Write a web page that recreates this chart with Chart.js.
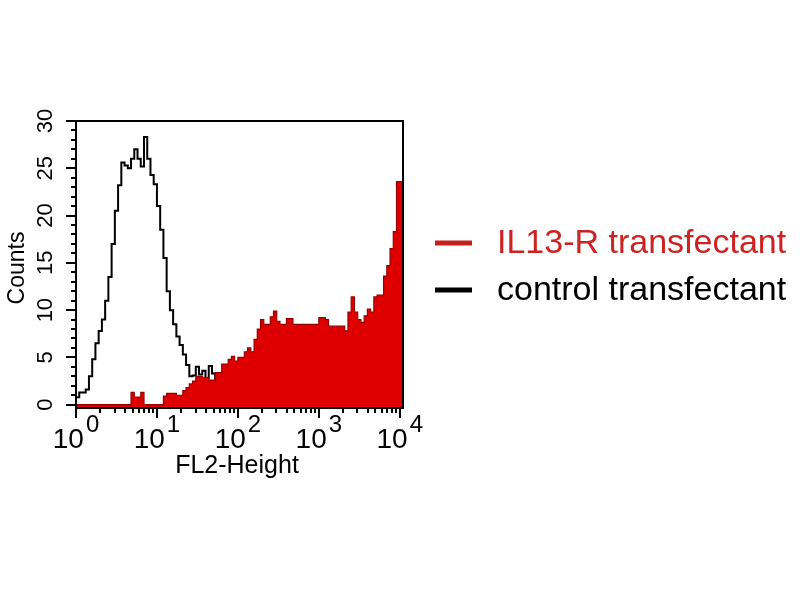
<!DOCTYPE html>
<html>
<head>
<meta charset="utf-8">
<script src="https://cdn.jsdelivr.net/npm/chart.js@4.4.1/dist/chart.umd.min.js"></script>
<style>
  html, body { margin: 0; padding: 0; background: #ffffff; }
  #wrap { width: 800px; height: 600px; }
</style>
</head>
<body>
<div id="wrap"><canvas id="c" width="800" height="600"></canvas></div>
<script>
// ---- data (channel histogram, 4 log decades over channels 0..100) ----
const channels = Array.from({length: 101}, (_, i) => i);

const seriesNames = ['IL13-R transfectant', 'control transfectant'];

const il13r = [
  0, 0, 0, 0, 0, 0, 0, 0, 0, 0,
  0, 0, 0, 0, 0, 0, 0, 0, 1.3, 0.8,
  0.8, 1.3, 0, 0, 0, 0, 0, 0, 0.9, 1.2,
  1.2, 1.2, 1.0, 1.0, 1.5, 1.8, 2.2, 2.5, 3.0, 3.0,
  2.9, 2.9, 2.6, 2.6, 3.4, 3.4, 4.3, 4.3, 4.8, 5.1,
  4.6, 5.0, 5.0, 5.6, 6.0, 5.6, 6.9, 8.0, 9.0, 8.5,
  8.5, 9.3, 9.9, 8.8, 8.5, 8.5, 9.1, 9.1, 8.5, 8.5,
  8.5, 8.5, 8.5, 8.5, 8.5, 8.5, 9.2, 9.2, 9.0, 8.3,
  8.3, 8.3, 8.3, 8.3, 7.8, 9.8, 11.4, 9.8, 9.0, 8.7,
  9.4, 10.1, 9.8, 11.4, 11.6, 11.6, 13.6, 14.7, 16.5, 18.3,
  23.6
];

const control = [
  2.2, 0.8, 1.3, 1.3, 1.6, 3.0, 4.8, 6.5, 7.8, 9.0,
  11.0, 13.5, 17.0, 20.5, 23.2, 25.6, 25.3, 25.0, 26.0, 27.0,
  26.0, 25.2, 28.3, 26.0, 24.3, 23.3, 21.0, 18.5, 15.5, 12.0,
  10.0, 8.5, 7.2, 6.3, 5.3, 4.2, 3.0, 3.1, 4.0, 3.2,
  3.6, 2.8, 4.1, 3.3, 2.5, 2.0, 1.5, 1.2, 0.8, 0.5,
  0.3, 0, 0, 0, 0, 0, 0, 0, 0, 0,
  0, 0, 0, 0, 0, 0, 0, 0, 0, 0,
  0, 0, 0, 0, 0, 0, 0, 0, 0, 0,
  0, 0, 0, 0, 0, 0, 0, 0, 0, 0,
  0, 0, 0, 0, 0, 0, 0, 0, 0, 0,
  0
];

// decade positions (channel) and their exponents
const decadeChannels = [0, 25, 50, 75, 100];
const decadeExponents = ['0', '1', '2', '3', '4'];
const yMajorTicks = [0, 5, 10, 15, 20, 25, 30];
const xTitle = 'FL2-Height';
const yTitle = 'Counts';

function toPoints(vals) {
  const pts = channels.map((c, i) => ({x: c, y: vals[i]}));
  pts.push({x: channels[channels.length - 1] + 1, y: vals[vals.length - 1]});
  return pts;
}

const FONT = '"Liberation Sans", Arial, sans-serif';

const axesPlugin = {
  id: 'facsAxes',
  afterDraw(chart) {
    const ctx = chart.ctx;
    const xs = chart.scales.x, ys = chart.scales.y;
    const a = chart.chartArea;
    ctx.save();
    ctx.strokeStyle = '#000';
    ctx.fillStyle = '#000';
    // frame
    ctx.lineWidth = 2;
    ctx.strokeRect(a.left, a.top, a.right - a.left, a.bottom - a.top);

    // y ticks
    ctx.lineWidth = 2;
    for (let v = 0; v <= 30; v++) {
      const y = Math.round(ys.getPixelForValue(v));
      const len = (v % 5 === 0) ? 10 : 5;
      ctx.beginPath();
      ctx.moveTo(a.left, y);
      ctx.lineTo(a.left - len, y);
      ctx.stroke();
    }
    // y labels (rotated)
    ctx.font = '22px ' + FONT;
    ctx.textAlign = 'center';
    ctx.textBaseline = 'middle';
    yMajorTicks.forEach(v => {
      const y = ys.getPixelForValue(v);
      ctx.save();
      ctx.translate(46, y);
      ctx.rotate(-Math.PI / 2);
      ctx.fillText(String(v), 0, 0);
      ctx.restore();
    });

    // x ticks (log decades with minor ticks)
    for (let d = 0; d < decadeChannels.length; d++) {
      const base = decadeChannels[d];
      const px = Math.round(xs.getPixelForValue(base));
      ctx.beginPath();
      ctx.moveTo(px, a.bottom);
      ctx.lineTo(px, a.bottom + 10);
      ctx.stroke();
      if (d < decadeChannels.length - 1) {
        const span = decadeChannels[d + 1] - base;
        for (let k = 2; k <= 9; k++) {
          const mx = Math.round(xs.getPixelForValue(base + span * Math.log10(k)));
          ctx.beginPath();
          ctx.moveTo(mx, a.bottom);
          ctx.lineTo(mx, a.bottom + 5);
          ctx.stroke();
        }
      }
    }
    // x labels 10^n
    ctx.textBaseline = 'alphabetic';
    ctx.textAlign = 'left';
    decadeChannels.forEach((c, i) => {
      const px = xs.getPixelForValue(c);
      ctx.font = '28px ' + FONT;
      const wb = ctx.measureText('10').width;
      ctx.font = '24px ' + FONT;
      const we = ctx.measureText(decadeExponents[i]).width;
      const start = px - (wb + 2 + we) / 2;
      ctx.font = '28px ' + FONT;
      ctx.fillText('10', start, 448);
      ctx.font = '24px ' + FONT;
      ctx.fillText(decadeExponents[i], start + wb + 2, 432);
    });

    // axis titles
    ctx.font = '25px ' + FONT;
    ctx.textAlign = 'center';
    ctx.textBaseline = 'alphabetic';
    ctx.fillText(xTitle, 237, 473);
    ctx.save();
    ctx.translate(24, 268);
    ctx.rotate(-Math.PI / 2);
    ctx.font = '23px ' + FONT;
    ctx.fillText(yTitle, 0, 0);
    ctx.restore();

    // legend
    const rows = [
      {label: chart.data.datasets[0].label, color: '#c81e1e', text: '#cc2222', y: 243},
      {label: chart.data.datasets[1].label, color: '#000000', text: '#000000', y: 290}
    ];
    ctx.font = '34px ' + FONT;
    ctx.textAlign = 'left';
    ctx.textBaseline = 'middle';
    rows.forEach(r => {
      ctx.strokeStyle = r.color;
      ctx.lineWidth = 5;
      ctx.beginPath();
      ctx.moveTo(435, r.y);
      ctx.lineTo(472, r.y);
      ctx.stroke();
      ctx.fillStyle = r.text;
      ctx.fillText(r.label, 497, r.y + 1);
    });
    ctx.restore();
  }
};

new Chart(document.getElementById('c'), {
  type: 'line',
  data: {
    datasets: [
      {
        label: seriesNames[0],
        data: toPoints(il13r),
        stepped: 'after',
        borderColor: 'rgb(150,0,0)',
        borderWidth: 1.2,
        backgroundColor: 'rgb(222,0,0)',
        fill: 'start',
        pointRadius: 0,
        tension: 0
      },
      {
        label: seriesNames[1],
        data: toPoints(control),
        stepped: 'after',
        borderColor: '#000000',
        borderWidth: 2,
        backgroundColor: 'transparent',
        fill: false,
        pointRadius: 0,
        tension: 0
      }
    ]
  },
  options: {
    responsive: false,
    animation: false,
    devicePixelRatio: 1,
    layout: { padding: { left: 76, top: 121, right: 397, bottom: 192 } },
    plugins: { legend: { display: false }, tooltip: { enabled: false } },
    scales: {
      x: { type: 'linear', min: 0, max: 101, display: false },
      y: { type: 'linear', min: -0.35, max: 30, display: false }
    }
  },
  plugins: [axesPlugin]
});
</script>
</body>
</html>
